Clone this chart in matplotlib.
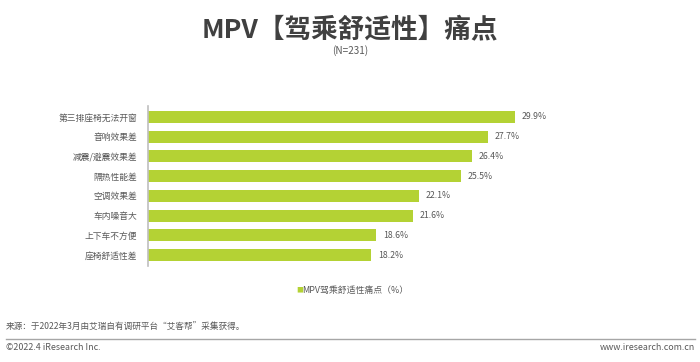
import matplotlib
matplotlib.use('Agg')
import matplotlib.pyplot as plt
from matplotlib.lines import Line2D

plt.rcParams['font.family'] = ['Noto Sans CJK SC', 'DejaVu Sans']

categories = ['第三排座椅无法开窗', '音响效果差', '减震/避震效果差', '隔热性能差',
              '空调效果差', '车内噪音大', '上下车不方便', '座椅舒适性差']
values = [29.9, 27.7, 26.4, 25.5, 22.1, 21.6, 18.6, 18.2]
series_name = 'MPV驾乘舒适性痛点（%）'

bar_color = '#b4d234'
text_color = '#595959'

fig = plt.figure(figsize=(7, 3.62), dpi=100)

fig.text(0.5, 0.919, 'MPV【驾乘舒适性】痛点', ha='center', va='center',
         fontsize=19.2, fontweight='bold', color='#404040')
fig.text(0.5, 0.86, '(N=231)', ha='center', va='center', fontsize=7.2, color=text_color)

ax = fig.add_axes([148 / 700, 96 / 362, 491 / 700, 160 / 362])
y = list(range(len(categories)))
ax.barh(y, values, height=0.6, color=bar_color)
for yi, v in zip(y, values):
    ax.text(v + 0.55, yi, f'{v}%', va='center', ha='left', fontsize=6.3, color=text_color)

ax.set_xlim(0, 40)
ax.set_ylim(len(categories) - 0.5 + 0.05, -0.55)
ax.set_yticks(y)
ax.set_yticklabels(categories, fontsize=6.3, color=text_color)
ax.tick_params(axis='y', length=0, pad=8)
ax.set_xticks([])
for s in ['top', 'right', 'bottom']:
    ax.spines[s].set_visible(False)
ax.spines['left'].set_color('#bfbfbf')
ax.spines['left'].set_linewidth(1.2)

# legend
fig.text(296 / 700, 1 - 290 / 362, '■', ha='left', va='center', fontsize=5,
         color=bar_color)
fig.text(302 / 700, 1 - 290 / 362, series_name, ha='left', va='center',
         fontsize=6.4, color=text_color)

fig.text(6 / 700, 1 - 326 / 362, '来源：于2022年3月由艾瑞自有调研平台“艾客帮”采集获得。',
         ha='left', va='center', fontsize=6.2, color=text_color)
fig.add_artist(Line2D([6 / 700, 695 / 700], [1 - 339 / 362, 1 - 339 / 362],
                      color='#a6a6a6', linewidth=1))
fig.text(6 / 700, 1 - 348 / 362, '©2022.4 iResearch Inc.', ha='left', va='center',
         fontsize=6.4, color=text_color)
fig.text(695 / 700, 1 - 348 / 362, 'www.iresearch.com.cn', ha='right', va='center',
         fontsize=6.4, color=text_color)

fig.savefig('out.png', dpi=100)
